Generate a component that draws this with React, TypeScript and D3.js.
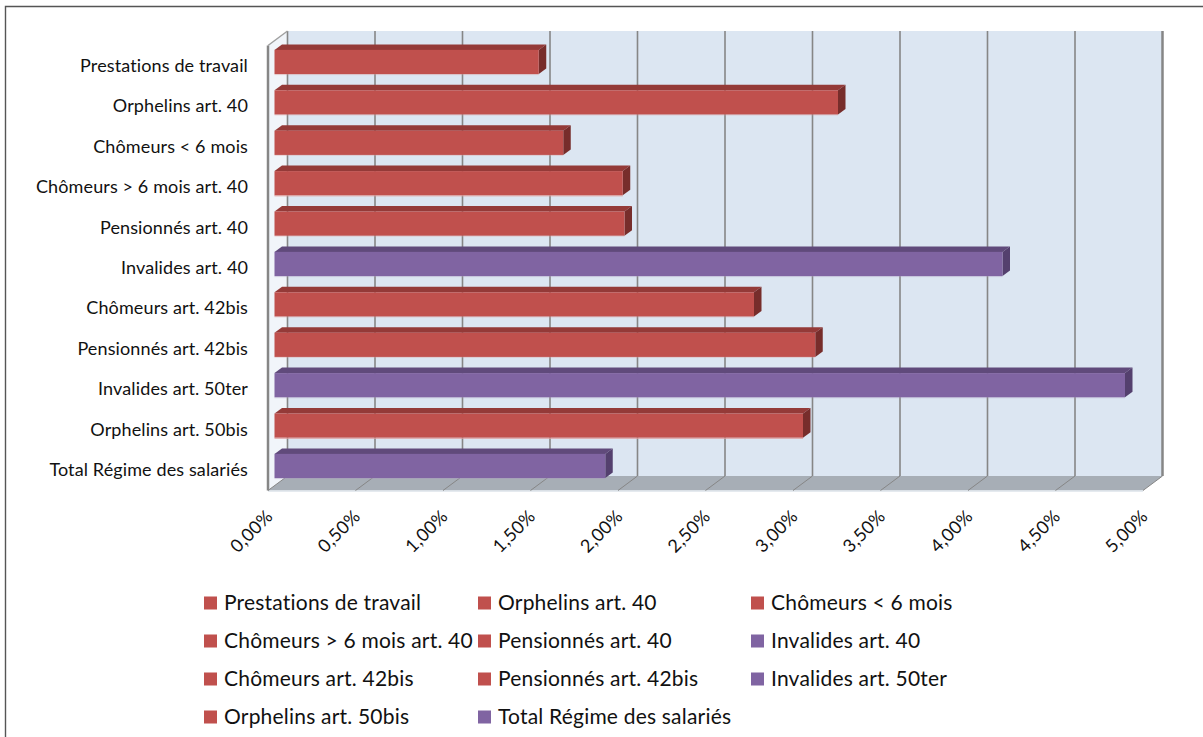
import React from "react";
import * as d3 from "d3";

const categories = [
  "Prestations de travail",
  "Orphelins art. 40",
  "Chômeurs < 6 mois",
  "Chômeurs > 6 mois art. 40",
  "Pensionnés art. 40",
  "Invalides art. 40",
  "Chômeurs art. 42bis",
  "Pensionnés art. 42bis",
  "Invalides art. 50ter",
  "Orphelins art. 50bis",
  "Total Régime des salariés",
];
const values = [1.51, 3.22, 1.65, 1.99, 2.0, 4.16, 2.74, 3.09, 4.86, 3.02, 1.89];
const groups = ["r", "r", "r", "r", "r", "v", "r", "r", "v", "r", "v"];
const ticks = [0, 0.5, 1, 1.5, 2, 2.5, 3, 3.5, 4, 4.5, 5];
const brightEdgeRows = [3, 9];

const palette: Record<string, { front: string; top: string; side: string; edge: string }> = {
  r: { front: "#C0504D", top: "#943A38", side: "#772D2B", edge: "#DE9C9A" },
  v: { front: "#8064A2", top: "#604A7B", side: "#54406E", edge: "#B3A2C7" },
};

const FONT = "Lato, Carlito, sans-serif";
const W = 1203;
const H = 737;
const depthX = 19.5;
const depthY = 14.5;
const barDX = 7.5;
const barDY = 5.5;

export default function App() {
  const x = d3.scaleLinear().domain([0, 5]).range([268, 1143]);
  const y = d3
    .scaleBand<string>()
    .domain(categories)
    .range([41.8, 486.2])
    .paddingInner(0.4)
    .paddingOuter(0.2);
  const wallTop = 31;
  const floorBack = 476;
  const floorFront = floorBack + depthY;
  const fmt = (t: number) => t.toFixed(2).replace(".", ",") + "%";
  const xb = (t: number) => x(t) + depthX;
  const legendCols = [204, 478, 751];
  const legendRow = d3.scaleLinear().domain([0, 3]).range([603, 717]);

  return (
    <svg
      width={W}
      height={H}
      viewBox={`0 0 ${W} ${H}`}
      style={{ position: "fixed", left: 0, top: 0, background: "#fff" }}
    >
      {/* chart frame: only the top and left edges fall inside the view */}
      <path d={`M5.5 ${H}V6.5H${W}`} fill="none" stroke="#555" strokeWidth={1.4} />

      {/* left wall, back wall, floor */}
      <path
        d={`M${x(0)} ${wallTop + depthY}L${xb(0)} ${wallTop}V${floorBack}L${x(0)} ${floorFront}Z`}
        fill="#F1F5FA"
      />
      <rect x={xb(0)} y={wallTop} width={xb(5) - xb(0)} height={floorBack - wallTop} fill="#DCE6F2" />
      <path
        d={`M${x(0)} ${floorFront}L${xb(0)} ${floorBack}H${xb(5)}L${x(5)} ${floorFront}Z`}
        fill="#A7AEB6"
      />
      <line x1={x(0)} x2={x(5)} y1={floorFront + 0.5} y2={floorFront + 0.5} stroke="#DDE3EA" strokeWidth={1.5} />

      {/* gridlines on the back wall and across the floor */}
      {ticks.map((t) => (
        <g key={t} stroke="#868686" fill="none">
          <line x1={xb(t)} x2={xb(t)} y1={wallTop} y2={floorBack} strokeWidth={t === 5 ? 2.5 : 1.6} />
          <line x1={x(t)} x2={xb(t)} y1={floorFront} y2={floorBack} strokeWidth={1} />
        </g>
      ))}
      <line
        x1={x(0)}
        x2={x(0)}
        y1={wallTop + depthY}
        y2={floorFront}
        stroke="#868686"
        strokeWidth={2.5}
      />
      <line x1={x(0)} x2={xb(0)} y1={wallTop + depthY} y2={wallTop} stroke="#A0A0A0" strokeWidth={1.5} />

      {/* bars: front, top and right faces */}
      {categories.map((c, i) => {
        const col = palette[groups[i]];
        const left = x(0) + 6.5;
        const right = x(values[i]) + 6.5;
        const t = y(c)!;
        const b = t + y.bandwidth();
        return (
          <g key={c}>
            <path
              d={`M${left} ${t}L${left + barDX} ${t - barDY}H${right + barDX}L${right} ${t}Z`}
              fill={col.top}
            />
            <path
              d={`M${right} ${t}L${right + barDX} ${t - barDY}V${b - barDY}L${right} ${b}Z`}
              fill={col.side}
            />
            <rect x={left} y={t} width={right - left} height={b - t} fill={col.front} />
            <line
              x1={left}
              x2={right}
              y1={b + 0.5}
              y2={b + 0.5}
              stroke={col.edge}
              strokeWidth={1}
              opacity={brightEdgeRows.includes(i) ? 1 : 0.35}
            />
          </g>
        );
      })}

      {/* category labels */}
      {categories.map((c) => (
        <text
          key={c}
          x={248}
          y={y(c)! + y.bandwidth() / 2 + 10}
          textAnchor="end"
          fontFamily={FONT}
          fontSize={18}
          letterSpacing={0.12}
          fill="#111"
        >
          {c}
        </text>
      ))}

      {/* value axis labels */}
      {ticks.map((t) => (
        <text
          key={t}
          transform={`translate(${x(t) + 6},${floorFront + 27}) rotate(-45)`}
          textAnchor="end"
          fontFamily={FONT}
          fontSize={18}
          letterSpacing={0.25}
          fill="#111"
        >
          {fmt(t)}
        </text>
      ))}

      {/* legend */}
      {categories.map((c, i) => {
        const col = legendCols[i % 3];
        const row = legendRow(Math.floor(i / 3));
        return (
          <g key={c}>
            <rect x={col} y={row - 6.5} width={13} height={13} fill={palette[groups[i]].front} />
            <text x={col + 20} y={row + 7} fontFamily={FONT} fontSize={21} letterSpacing={0.2} fill="#111">
              {c}
            </text>
          </g>
        );
      })}
    </svg>
  );
}
